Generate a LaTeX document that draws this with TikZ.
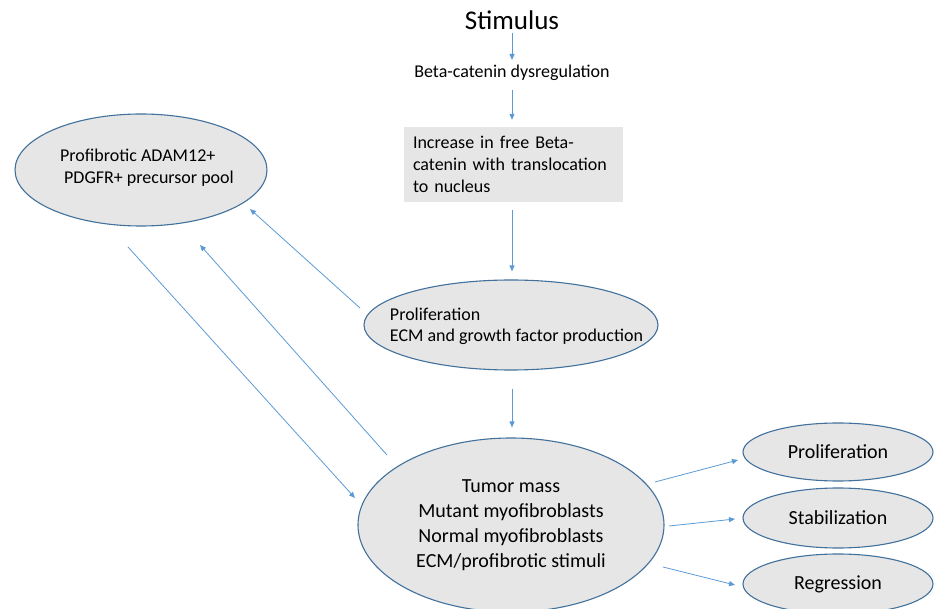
\documentclass[tikz,border=0pt]{standalone}
\usepackage{fontspec}
\setmainfont{Carlito}
\usetikzlibrary{shapes.geometric,arrows.meta,calc}
\definecolor{fillgray}{HTML}{E7E6E6}
\definecolor{edgeblue}{HTML}{41719C}
\definecolor{arrblue}{HTML}{5B9BD5}
\tikzset{
  oval/.style={ellipse, draw=edgeblue, line width=1.1pt, fill=fillgray, inner sep=0pt, text=black},
  arr/.style={draw=arrblue, line width=0.8pt, -{Triangle[length=6pt,width=5pt]}},
  fs/.style n args={2}{font=\fontsize{#1}{#2}\selectfont}
}
\begin{document}
\begin{tikzpicture}[x=1pt,y=-1pt]
\useasboundingbox (0,0) rectangle (935,609);
\clip (0,0) rectangle (935,609);
\fill[white] (0,0) rectangle (935,609);

\node[fs={27}{32}, inner sep=0pt] (stim) at (512,20) {Stimulus};
\node[fs={18}{22}, inner sep=0pt] (beta) at (512,73) {Beta-catenin dysregulation};
\node[fs={18}{22}, fill=fillgray, minimum width=219pt, minimum height=75pt,
      text width=201pt, inner xsep=9pt, inner ysep=0pt, align=left] (box) at (513.5,164.5)
  {Increase in free Beta-\\catenin with translocation\\to nucleus};
\node[oval, minimum width=294pt, minimum height=90pt] (ecm) at (511,325) {};
\node[fs={18}{21}, align=left, inner sep=0pt] (ecmtext) at (516.5,326)
  {Proliferation\\ECM and growth factor production};
\node[oval, minimum width=252pt, minimum height=112pt] (left) at (141,170) {};
\node[fs={18}{22}, align=left, inner sep=0pt] (lefttext) at (147,168)
  {Profibrotic ADAM12+\\\hspace*{4pt}PDGFR+ precursor pool};
\node[oval, fs={20}{25}, minimum width=306pt, minimum height=174pt, align=center] (tumor) at (511,525)
  {Tumor mass\\Mutant myofibroblasts\\Normal myofibroblasts\\ECM/profibrotic stimuli};
\node[oval, fs={20}{24}, minimum width=190pt, minimum height=58pt] (p1) at (838,452) {Proliferation};
\node[oval, fs={20}{24}, minimum width=190pt, minimum height=60pt] (p2) at (838,518) {Stabilization};
\node[oval, fs={20}{24}, minimum width=190pt, minimum height=60pt] (p3) at (838,584) {Regression};

\draw[arr] ($(stim.center)+(0,13)$) -- ($(beta.center)+(0,-13)$);
\draw[arr] ($(beta.center)+(0,17)$) -- ($(beta |- box.north)+(0,-7)$);
\draw[arr] ($(beta |- box.south)+(0,8)$) -- ($(beta |- ecm.north)+(0,-8)$);
\draw[arr] ($(beta |- ecm.south)+(0,18)$) -- ($(beta |- tumor.north)+(0,-10)$);
\draw[arr] ($(ecm.center)+(-151,-17)$) -- ($(left.center)+(109,39)$);
\draw[arr] ($(tumor.center)+(-124,-70)$) -- ($(left.center)+(59,75)$);
\draw[arr] ($(left.center)+(-13,77)$) -- ($(tumor.center)+(-156,-27)$);
\draw[arr] ($(tumor.center)+(144,-43)$) -- ($(p1.center)+(-100,8)$);
\draw[arr] ($(tumor.center)+(158,1)$) -- ($(p2.center)+(-103,1)$);
\draw[arr] ($(tumor.center)+(152,42)$) -- ($(p3.center)+(-103,1)$);
\end{tikzpicture}
\end{document}
